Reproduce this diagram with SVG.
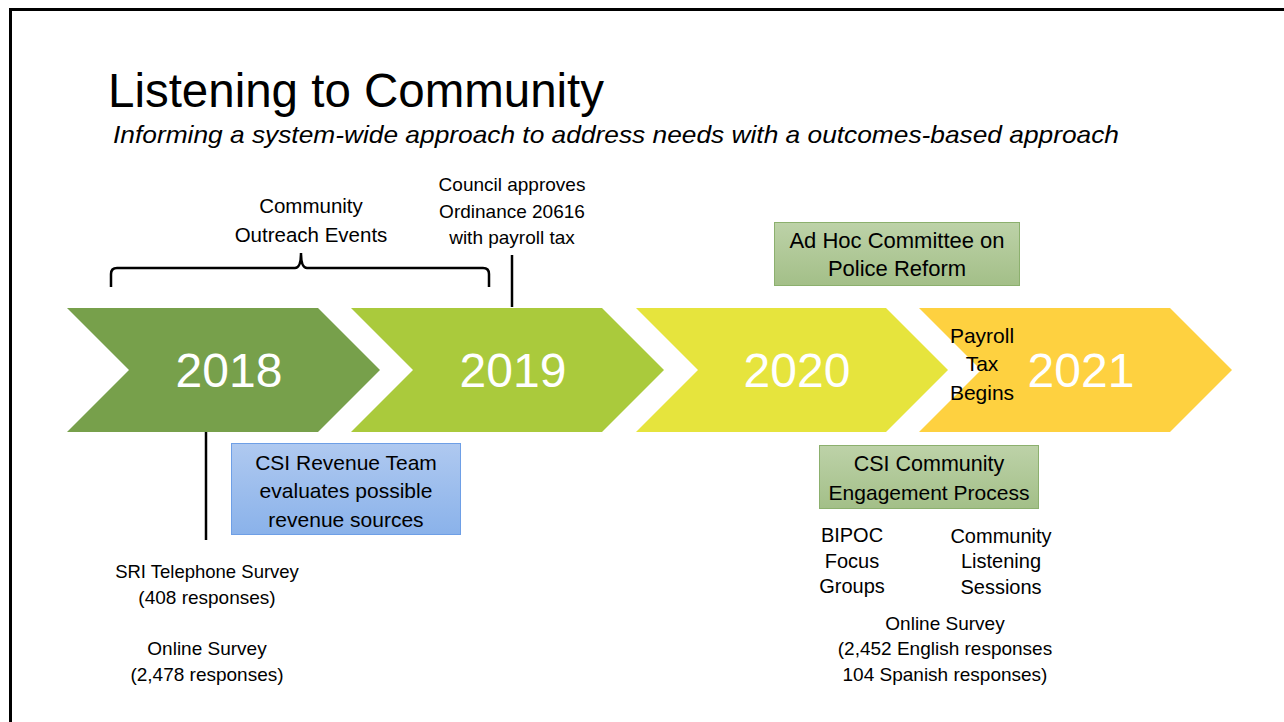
<svg xmlns="http://www.w3.org/2000/svg" width="1284" height="722" viewBox="0 0 1284 722">
<defs>
<linearGradient id="gBlue" x1="0" y1="0" x2="0" y2="1"><stop offset="0" stop-color="#AFC9F0"/><stop offset="1" stop-color="#8AB2EA"/></linearGradient>
<linearGradient id="gGreen" x1="0" y1="0" x2="0" y2="1"><stop offset="0" stop-color="#BDD2A8"/><stop offset="1" stop-color="#A3BF88"/></linearGradient>
<style>
text{font-family:"Liberation Sans",Arial,sans-serif;fill:#000}
.t{font-size:19px;text-anchor:middle}
.m{font-size:19px;text-anchor:middle}
.l{font-size:20px;text-anchor:middle}
.b{font-size:21px;text-anchor:middle}
.yr{font-size:48px;fill:#fff;text-anchor:middle}
.ln{stroke:#000;stroke-width:2.5;fill:none}
</style>
</defs>
<rect width="1284" height="722" fill="#fff"/>
<path d="M10.5,722 V9.5 H1284" fill="none" stroke="#000" stroke-width="3"/>
<g id="title">
<text x="108" y="107" font-size="48" textLength="496" lengthAdjust="spacingAndGlyphs">Listening to Community</text>
<text x="113" y="143" font-size="24" font-style="italic" textLength="1006" lengthAdjust="spacingAndGlyphs">Informing a system-wide approach to address needs with a outcomes-based approach</text>
</g>
<g id="y2018"><polygon points="67,308 318,308 380,370 318,432 67,432 129,370" fill="#77A04B"/><text class="yr" x="229" y="387">2018</text></g>
<g id="y2019"><polygon points="351,308 602,308 664,370 602,432 351,432 413,370" fill="#AACA3C"/><text class="yr" x="513" y="387">2019</text></g>
<g id="y2020"><polygon points="636,308 886,308 948,370 886,432 636,432 698,370" fill="#E6E43D"/><text class="yr" x="797" y="387">2020</text></g>
<g id="y2021"><polygon points="919,308 1170,308 1232,370 1170,432 919,432 981,370" fill="#FED140"/><text class="yr" x="1081" y="387">2021</text></g>
<g id="payroll" font-size="21"><text x="982" y="343" text-anchor="middle">Payroll</text><text x="982" y="371" text-anchor="middle">Tax</text><text x="982" y="400" text-anchor="middle">Begins</text></g>
<g id="outreach" font-size="20.5"><text x="311" y="213" text-anchor="middle">Community</text><text x="311" y="242" text-anchor="middle">Outreach Events</text></g>
<g id="council"><text class="m" x="512" y="191">Council approves</text><text class="m" x="512" y="218">Ordinance 20616</text><text class="m" x="512" y="244">with payroll tax</text></g>
<g id="revenue"><rect x="231.5" y="443.5" width="229" height="91" fill="url(#gBlue)" stroke="#6E9FE6" stroke-width="1"/><text class="b" x="346" y="470">CSI Revenue Team</text><text class="b" x="346" y="498">evaluates possible</text><text class="b" x="346" y="527">revenue sources</text></g>
<g id="adhoc"><rect x="774.5" y="222.5" width="245" height="63" fill="url(#gGreen)" stroke="#8CB06E" stroke-width="1"/><text x="897" y="248" font-size="22" text-anchor="middle">Ad Hoc Committee on</text><text x="897" y="276" font-size="22" text-anchor="middle">Police Reform</text></g>
<g id="engagement"><rect x="819.5" y="445.5" width="219" height="63" fill="url(#gGreen)" stroke="#8CB06E" stroke-width="1"/><text x="929" y="471" font-size="21.5" text-anchor="middle">CSI Community</text><text class="b" x="929" y="500">Engagement Process</text></g>
<g id="sri"><text x="207" y="578" font-size="18.5" text-anchor="middle">SRI Telephone Survey</text><text class="t" x="207" y="604">(408 responses)</text><text class="t" x="207" y="655">Online Survey</text><text class="t" x="207" y="681">(2,478 responses)</text></g>
<g id="bipoc"><text class="l" x="852" y="542">BIPOC</text><text class="l" x="852" y="568">Focus</text><text class="l" x="852" y="593">Groups</text></g>
<g id="listening"><text class="l" x="1001" y="543">Community</text><text class="l" x="1001" y="568">Listening</text><text class="l" x="1001" y="594">Sessions</text></g>
<g id="online2020"><text class="m" x="945" y="630">Online Survey</text><text class="m" x="945" y="655">(2,452 English responses</text><text class="m" x="945" y="681">104 Spanish responses)</text></g>
<g id="connectors">
<path class="ln" stroke-width="1.3" d="M111,287 V274 Q111,268 117,268 H295 Q301,268 301,253 Q301,268 307,268 H483 Q489,268 489,274 V287"/>
<line class="ln" x1="512" y1="255" x2="512" y2="307"/>
<line class="ln" x1="206" y1="432" x2="206" y2="540"/>
</g>
</svg>
